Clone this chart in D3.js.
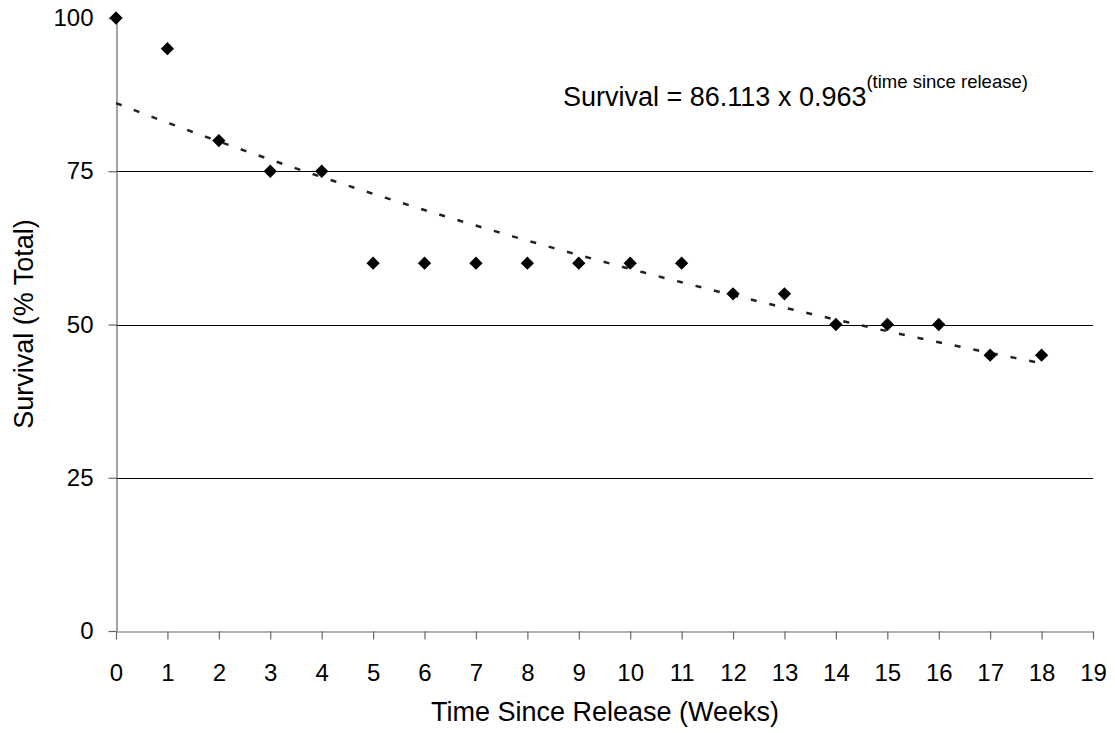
<!DOCTYPE html>
<html lang="en">
<head>
	<meta charset="UTF-8">
	<title>Survival</title>
	<style>
		body { margin: 0; background: #fff; }
		text { font-family: "Liberation Sans", Arial, sans-serif; fill: #000; }
	</style>
</head>
<body>
<script src="https://cdnjs.cloudflare.com/ajax/libs/d3/7.8.5/d3.min.js"></script>
<script type="text/javascript">
  // data
  var weeks    = [0, 1, 2, 3, 4, 5, 6, 7, 8, 9, 10, 11, 12, 13, 14, 15, 16, 17, 18];
  var survival = [100, 95, 80, 75, 75, 60, 60, 60, 60, 60, 60, 60, 55, 55, 50, 50, 50, 45, 45];
  var xTicks   = d3.range(0, 20);
  var yTicks   = [0, 25, 50, 75, 100];
  var gridVals = [25, 50, 75];
  var fitA = 86.113, fitB = 0.963;

  var W = 1115, H = 733;
  var svg = d3.select('body').append('svg')
      .attr('width', W)
      .attr('height', H);

  var x = d3.scaleLinear().domain([0, 19]).range([116, 1093]);
  var y = d3.scaleLinear().domain([0, 100]).range([631, 18]);

  // gridlines
  svg.append('g').selectAll('line')
      .data(gridVals)
    .enter().append('line')
      .attr('x1', x(0)).attr('x2', x(19))
      .attr('y1', function(d) { return Math.round(y(d)) + 0.5; })
      .attr('y2', function(d) { return Math.round(y(d)) + 0.5; })
      .attr('stroke', '#000')
      .attr('stroke-width', 1);

  var xAxis = svg.append('g')
      .attr('transform', 'translate(0,' + (Math.round(y(0)) + 0.5) + ')')
      .call(d3.axisBottom(x).tickValues(xTicks).tickSize(8).tickPadding(24).tickSizeOuter(0));
  var yAxis = svg.append('g')
      .attr('transform', 'translate(' + (Math.round(x(0)) + 0.5) + ',0)')
      .call(d3.axisLeft(y).tickValues(yTicks).tickSize(8).tickPadding(15).tickSizeOuter(0));

  [xAxis, yAxis].forEach(function(a) {
    a.selectAll('path, line').attr('stroke', '#666').attr('stroke-width', 1.2);
    a.selectAll('text').attr('font-size', 24).attr('font-family', '"Liberation Sans", Arial, sans-serif');
  });

  // trend line
  var fitPts = d3.range(0, 18.01, 0.25).map(function(t) { return [t, fitA * Math.pow(fitB, t)]; });
  svg.append('path')
      .datum(fitPts)
      .attr('d', d3.line().x(function(d) { return x(d[0]); }).y(function(d) { return y(d[1]); }))
      .attr('fill', 'none')
      .attr('stroke', '#222')
      .attr('stroke-width', 2.5)
      .attr('stroke-dasharray', '6,13');

  // diamonds
  var sym = d3.symbol().type(d3.symbolSquare).size(88);
  svg.append('g').selectAll('path')
      .data(weeks)
    .enter().append('path')
      .attr('d', sym)
      .attr('transform', function(d, i) { return 'translate(' + x(d) + ',' + y(survival[i]) + ') rotate(45)'; })
      .attr('fill', '#000');

  // equation
  var eq = svg.append('text')
      .attr('x', 563).attr('y', 106)
      .attr('font-size', 27);
  eq.append('tspan').text('Survival = ' + fitA + ' x ' + fitB);
  eq.append('tspan').attr('font-size', 18.5).attr('dy', -18).text('(time since release)');

  // axis titles
  svg.append('text')
      .attr('x', 605).attr('y', 721)
      .attr('text-anchor', 'middle')
      .attr('font-size', 27)
      .text('Time Since Release (Weeks)');
  svg.append('text')
      .attr('transform', 'translate(33,324) rotate(-90)')
      .attr('text-anchor', 'middle')
      .attr('font-size', 27)
      .text('Survival (% Total)');
</script>
</body>
</html>
